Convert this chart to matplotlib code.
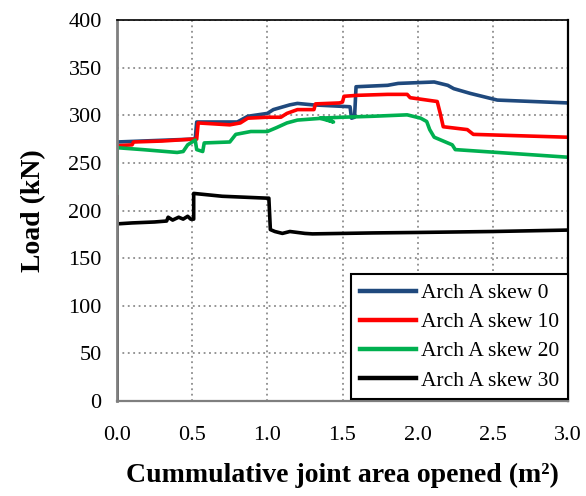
import matplotlib
matplotlib.use("Agg")
import matplotlib.pyplot as plt

plt.rcParams['font.family'] = ['Liberation Serif', 'DejaVu Serif']

labels = ["Arch A skew 0", "Arch A skew 10", "Arch A skew 20", "Arch A skew 30"]
colors = ["#1F497D", "#FF0000", "#00B050", "#000000"]

skew0_x = [0.0, 0.0, 0.5, 0.52, 0.53, 0.8, 0.87, 1.0, 1.04, 1.15, 1.2, 1.3, 1.55, 1.56, 1.58, 1.59,
           1.8, 1.87, 2.11, 2.2, 2.24, 2.35, 2.53, 3.0]
skew0_y = [265, 272, 275, 275, 293, 293, 299, 302, 306, 311, 312.5, 311, 309, 297, 298, 330,
           331.5, 333.5, 335, 331.5, 328, 323, 316, 313]

skew10_x = [0.0, 0.0, 0.1, 0.11, 0.3, 0.5, 0.53, 0.54, 0.75, 0.82, 0.87, 1.0, 1.09, 1.13, 1.2,
            1.31, 1.32, 1.48, 1.5, 1.51, 1.6, 1.8, 1.93, 1.95, 2.13, 2.15, 2.17, 2.33, 2.37, 3.0]
skew10_y = [250, 268, 269, 272, 273, 275, 275, 292, 290, 292, 297, 298, 298, 302, 306,
            306, 312, 313, 314, 320, 321, 322, 322, 318.5, 314.5, 302, 288, 285, 280, 277]

skew20_x = [0.0, 0.0, 0.17, 0.4, 0.44, 0.47, 0.52, 0.53, 0.57, 0.58, 0.75, 0.79, 0.89, 1.0, 1.06,
            1.13, 1.2, 1.37, 1.44, 1.35, 1.5, 1.7, 1.93, 2.02, 2.06, 2.08, 2.11, 2.23, 2.25, 3.0]
skew20_y = [218, 266, 264, 261, 262, 269, 274, 264, 262, 271, 272, 280, 283, 283, 287,
            292, 295, 297, 293, 297, 298, 299, 300.5, 297, 293.5, 285, 277, 269, 264, 256]

skew30_x = [0.0, 0.0, 0.0, 0.1, 0.25, 0.33, 0.34, 0.37, 0.41, 0.44, 0.47, 0.49, 0.51, 0.51, 0.7,
            1.0, 1.01, 1.02, 1.05, 1.1, 1.15, 1.25, 1.3, 1.5, 1.7, 2.0, 2.5, 3.0]
skew30_y = [0, 215, 186, 187, 188, 189, 193, 190, 193, 191, 194, 191, 191, 218, 215,
            213, 213, 180, 178, 176, 178, 176, 175.5, 176, 176.5, 177, 178, 179.5]

x_ticks = [0.0, 0.5, 1.0, 1.5, 2.0, 2.5, 3.0]
y_ticks = [0, 50, 100, 150, 200, 250, 300, 350, 400]

fig = plt.figure(figsize=(5.86, 4.96), dpi=100)
ax = fig.add_axes([0.1997, 0.1915, 0.7696, 0.768])

series = [(skew0_x, skew0_y), (skew10_x, skew10_y), (skew20_x, skew20_y), (skew30_x, skew30_y)]
for (xs, ys), lab, col in zip(series, labels, colors):
    ax.plot(xs, ys, color=col, lw=2.6, label=lab, solid_joinstyle='round')

ax.set_xlim(0, 3.0)
ax.set_ylim(0, 400)
ax.set_xticks(x_ticks)
ax.set_xticklabels([f"{v:.1f}" for v in x_ticks])
ax.set_yticks(y_ticks)
ax.grid(True, color="#8c8c8c", linestyle=(0, (1, 2)), linewidth=1.3)
ax.set_axisbelow(True)
ax.tick_params(axis='both', length=0, labelsize=16)
ax.tick_params(axis='x', pad=18)
ax.tick_params(axis='y', pad=11)

ax.spines['left'].set_color('#7f7f7f')
ax.spines['left'].set_linewidth(2.0)
ax.spines['bottom'].set_color('#7f7f7f')
ax.spines['bottom'].set_linewidth(1.6)
ax.spines['top'].set_color('#000000')
ax.spines['top'].set_linewidth(1.2)
ax.spines['right'].set_color('#000000')
ax.spines['right'].set_linewidth(1.6)

ax.set_xlabel("Cummulative joint area opened (m²)", fontsize=20, fontweight='bold', labelpad=13)
ax.set_ylabel("Load (kN)", fontsize=20, fontweight='bold', labelpad=16)

leg = ax.legend(loc='lower right', bbox_to_anchor=(1.0, 0.005), borderaxespad=0,
                fontsize=15.5, fancybox=False, framealpha=1, edgecolor='black',
                handlelength=2.6, handletextpad=0.25, labelspacing=0.42, borderpad=0.4)
leg.get_frame().set_linewidth(1.5)
for h in leg.get_lines():
    h.set_linewidth(3.2)

fig.savefig("out.png", dpi=100)
